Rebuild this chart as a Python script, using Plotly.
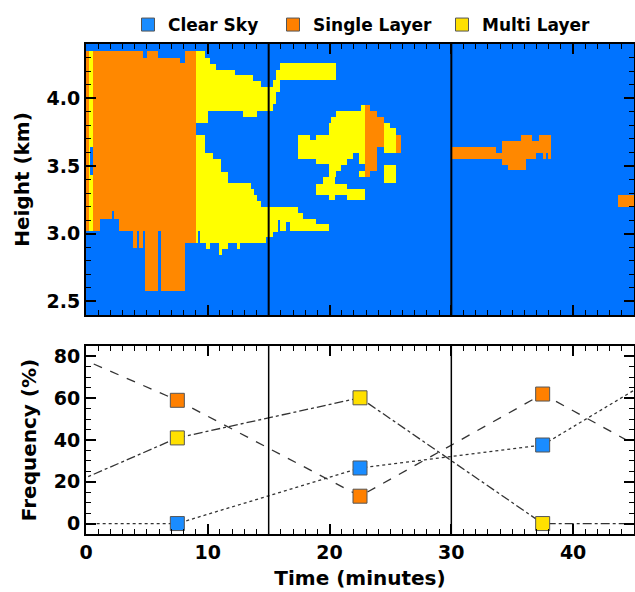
import numpy as np
import plotly.graph_objects as go

# ---------------- data ----------------
categories = ["Clear Sky", "Single Layer", "Multi Layer"]
cat_codes = {"C": 0, "S": 1, "M": 2}
heat_colors = ["#0073ff", "#ff8800", "#ffff00"]
marker_colors = ["#1a8cff", "#ff8000", "#ffe000"]

time_range = [0, 45]          # minutes
height_range = [2.4, 4.4]     # km
freq_range = [-5, 85]         # %
dividers = [15, 30]           # minutes

# cloud-type regions: (type, t0, t1, h0, h1)
cloud_rects = [
    # first period: thick single-layer block
    ("S", 0.00, 9.02, 3.019, 4.348),
    ("M", 0.25, 0.57, 3.019, 4.348),
    ("C", 0.33, 0.57, 3.431, 3.638),
    ("C", 4.70, 5.02, 4.299, 4.348),
    ("C", 5.90, 8.17, 4.299, 4.348),
    ("C", 7.70, 8.17, 4.260, 4.299),
    ("C", 1.15, 2.73, 3.019, 3.106),
    ("C", 2.11, 2.32, 3.106, 3.165),
    ("S", 3.88, 4.20, 2.891, 3.019),
    ("S", 4.37, 4.70, 2.891, 3.019),
    ("S", 4.84, 5.90, 2.575, 3.019),
    ("S", 6.19, 8.17, 2.575, 3.019),
    ("S", 8.17, 9.02, 2.928, 3.019),
    # upper multi-layer band
    ("M", 9.02, 9.75, 3.818, 4.348),
    ("M", 9.75, 10.00, 3.818, 4.297),
    ("M", 10.00, 10.22, 3.907, 4.297),
    ("M", 10.22, 10.71, 3.907, 4.254),
    ("M", 10.71, 12.21, 3.907, 4.208),
    ("M", 12.21, 12.87, 3.907, 4.169),
    ("M", 12.87, 13.71, 3.862, 4.169),
    ("M", 13.71, 14.02, 3.862, 4.126),
    ("M", 14.02, 14.34, 3.907, 4.126),
    ("M", 14.34, 15.00, 3.907, 4.082),
    ("M", 15.00, 15.35, 3.905, 4.082),
    ("M", 15.35, 15.57, 3.956, 4.134),
    ("M", 15.57, 15.90, 4.045, 4.208),
    ("M", 15.90, 20.49, 4.134, 4.260),
    # lower multi-layer band
    ("M", 9.02, 9.75, 2.928, 3.727),
    ("M", 9.75, 10.43, 2.928, 3.592),
    ("M", 10.43, 11.12, 2.928, 3.555),
    ("M", 11.12, 11.66, 2.928, 3.456),
    ("M", 11.66, 13.58, 2.928, 3.372),
    ("M", 13.58, 13.77, 2.928, 3.330),
    ("M", 13.77, 14.04, 2.928, 3.286),
    ("M", 14.04, 14.34, 2.928, 3.241),
    ("M", 14.34, 14.75, 2.928, 3.195),
    ("M", 14.75, 15.00, 2.978, 3.195),
    ("C", 9.20, 9.34, 2.928, 3.019),
    ("M", 9.89, 10.16, 2.886, 2.928),
    ("M", 10.90, 11.17, 2.842, 2.928),
    ("M", 11.17, 11.66, 2.886, 2.928),
    ("M", 12.43, 12.68, 2.886, 2.928),
    ("M", 15.00, 15.35, 2.977, 3.197),
    ("M", 15.35, 15.76, 3.012, 3.197),
    ("M", 15.76, 15.96, 3.104, 3.197),
    ("M", 15.96, 16.45, 3.019, 3.197),
    ("M", 16.45, 16.72, 3.086, 3.197),
    ("M", 16.72, 17.40, 3.019, 3.197),
    ("M", 17.40, 17.81, 3.019, 3.152),
    ("M", 17.81, 18.91, 3.019, 3.111),
    ("M", 18.91, 19.92, 3.019, 3.069),
    # second period: mid-level cloud
    ("M", 17.40, 18.42, 3.555, 3.727),
    ("M", 18.42, 18.91, 3.555, 3.690),
    ("M", 18.91, 19.94, 3.513, 3.727),
    ("M", 19.94, 20.14, 3.419, 3.814),
    ("M", 20.14, 20.55, 3.419, 3.862),
    ("M", 20.55, 20.96, 3.461, 3.905),
    ("M", 20.96, 21.42, 3.505, 3.905),
    ("M", 21.42, 21.91, 3.555, 3.905),
    ("M", 21.91, 22.40, 3.599, 3.905),
    ("M", 22.40, 22.60, 3.513, 3.905),
    ("M", 22.60, 22.95, 3.513, 3.949),
    ("M", 22.40, 22.95, 3.419, 3.461),
    ("S", 22.95, 23.28, 3.419, 3.949),
    ("S", 23.28, 23.88, 3.461, 3.905),
    ("S", 23.88, 24.51, 3.641, 3.862),
    ("M", 24.51, 25.00, 3.599, 3.814),
    ("M", 25.00, 25.47, 3.599, 3.777),
    ("S", 25.47, 25.88, 3.599, 3.727),
    ("M", 24.51, 25.47, 3.376, 3.510),
    ("M", 19.45, 20.47, 3.370, 3.419),
    ("M", 18.91, 21.42, 3.283, 3.370),
    ("M", 21.42, 22.95, 3.246, 3.333),
    ("M", 19.94, 20.47, 3.246, 3.283),
    # third period: thin single layer
    ("S", 30.08, 33.69, 3.555, 3.641),
    ("S", 33.69, 34.18, 3.555, 3.599),
    ("S", 34.18, 34.67, 3.510, 3.683),
    ("S", 34.67, 36.15, 3.468, 3.683),
    ("S", 35.74, 36.64, 3.683, 3.727),
    ("S", 36.15, 36.97, 3.555, 3.683),
    ("S", 36.97, 37.54, 3.599, 3.683),
    ("S", 37.21, 38.20, 3.683, 3.727),
    ("S", 37.54, 37.79, 3.555, 3.683),
    ("S", 37.79, 37.95, 3.599, 3.683),
    ("S", 37.95, 38.20, 3.555, 3.683),
    ("S", 43.69, 45.00, 3.195, 3.283),
]

# frequency per 15-minute period (centres), lines continue past the axis edges
freq_time = [-7.5, 7.5, 22.5, 37.5, 52.5]
freq_clear = [0, 0, 26.6, 37.6, 90]
freq_single = [97, 59, 13.1, 62, 14]
freq_multi = [3, 41, 60.2, 0, 0]

# ---------------- build the cloud-type grid ----------------
t_edges = sorted(set(time_range + [r[1] for r in cloud_rects] + [r[2] for r in cloud_rects]))
h_edges = sorted(set(height_range + [r[3] for r in cloud_rects] + [r[4] for r in cloud_rects]))
t_edges = np.array(t_edges)
h_edges = np.array(h_edges)
tc = 0.5 * (t_edges[:-1] + t_edges[1:])
hc = 0.5 * (h_edges[:-1] + h_edges[1:])
z = np.zeros((len(hc), len(tc)), dtype=int)
for kind, t0, t1, h0, h1 in cloud_rects:
    tm = (tc > t0) & (tc < t1)
    hm = (hc > h0) & (hc < h1)
    z[np.ix_(hm, tm)] = cat_codes[kind]

W, H = 635, 592
xdom = [86 / W, 634 / W]
ydom_top = [1 - 315 / H, 1 - 44 / H]
ydom_bot = [1 - 534 / H, 1 - 346 / H]

FONT = "DejaVu Sans"
tickfont = dict(family=FONT, size=19, color="black", weight="bold")
titlefont = dict(family=FONT, size=20, color="black", weight="bold")

fig = go.Figure()

colorscale = [
    [0.0, heat_colors[0]], [1 / 3, heat_colors[0]],
    [1 / 3, heat_colors[1]], [2 / 3, heat_colors[1]],
    [2 / 3, heat_colors[2]], [1.0, heat_colors[2]],
]
fig.add_trace(go.Heatmap(
    x=t_edges, y=h_edges, z=z, zmin=0, zmax=2, colorscale=colorscale,
    showscale=False, hoverinfo="skip", xaxis="x", yaxis="y",
))

series = [freq_clear, freq_single, freq_multi]
dashes = ["dot", "dash", "dashdot"]
for name, vals, dash, col in zip(categories, series, dashes, marker_colors):
    fig.add_trace(go.Scatter(
        x=freq_time, y=vals, mode="lines+markers", name=name, showlegend=False,
        line=dict(color="#333333", width=1.3, dash=dash),
        marker=dict(symbol="square", size=14, color=col,
                    line=dict(color="#555555", width=1)),
        xaxis="x2", yaxis="y2",
    ))

legend_x = [128 / W, 273 / W, 442 / W]
legend_names = ["legend", "legend2", "legend3"]
for name, col, lx, lg in zip(categories, marker_colors, legend_x, legend_names):
    fig.add_trace(go.Scatter(
        x=[None], y=[None], mode="markers", name=name, showlegend=True,
        marker=dict(symbol="square", size=13, color=col,
                    line=dict(color="#555555", width=1)),
        xaxis="x2", yaxis="y2", legend=lg,
    ))

common_axis = dict(
    showline=True, linecolor="black", linewidth=2, mirror="ticks",
    ticks="inside", ticklen=10, tickwidth=1.5, tickcolor="black",
    showgrid=False, zeroline=False, tickfont=tickfont, automargin=False,
)

layout = dict(
    width=W, height=H, margin=dict(l=0, r=0, t=0, b=0, autoexpand=False),
    paper_bgcolor="white", plot_bgcolor="white",
    xaxis=dict(domain=xdom, anchor="y", range=time_range, dtick=10, tick0=0,
               showticklabels=False,
               minor=dict(dtick=1, ticklen=5, ticks="inside", tickcolor="black", tickwidth=1.2),
               **common_axis),
    yaxis=dict(domain=ydom_top, anchor="x", range=height_range, dtick=0.5, tick0=2.5,
               tickformat=".1f",
               minor=dict(dtick=0.1, ticklen=5, ticks="inside", tickcolor="black", tickwidth=1.2),
               title=dict(text="Height (km)", font=titlefont, standoff=12),
               **common_axis),
    xaxis2=dict(domain=xdom, anchor="y2", range=time_range, dtick=10, tick0=0,
                minor=dict(dtick=1, ticklen=5, ticks="inside", tickcolor="black", tickwidth=1.2),
                title=dict(text="Time (minutes)", font=titlefont, standoff=9),
                **common_axis),
    yaxis2=dict(domain=ydom_bot, anchor="x2", range=freq_range, dtick=20, tick0=0,
                minor=dict(dtick=5, ticklen=5, ticks="inside", tickcolor="black", tickwidth=1.2),
                title=dict(text="Frequency (%)", font=titlefont, standoff=12),
                **common_axis),
)
for lx, lg in zip(legend_x, legend_names):
    layout[lg] = dict(x=lx, y=1 - 25 / H, xanchor="left", yanchor="middle",
                      orientation="h", bgcolor="rgba(0,0,0,0)", borderwidth=0,
                      font=dict(family=FONT, size=17, color="black", weight="bold"))
fig.update_layout(**layout)

for d in dividers:
    for xr, yr, w in [("x", "y domain", 2), ("x2", "y2 domain", 1.5)]:
        fig.add_shape(type="line", xref=xr, yref=yr, x0=d, x1=d, y0=0, y1=1,
                      line=dict(color="black", width=w))

fig.write_html("out.html")
